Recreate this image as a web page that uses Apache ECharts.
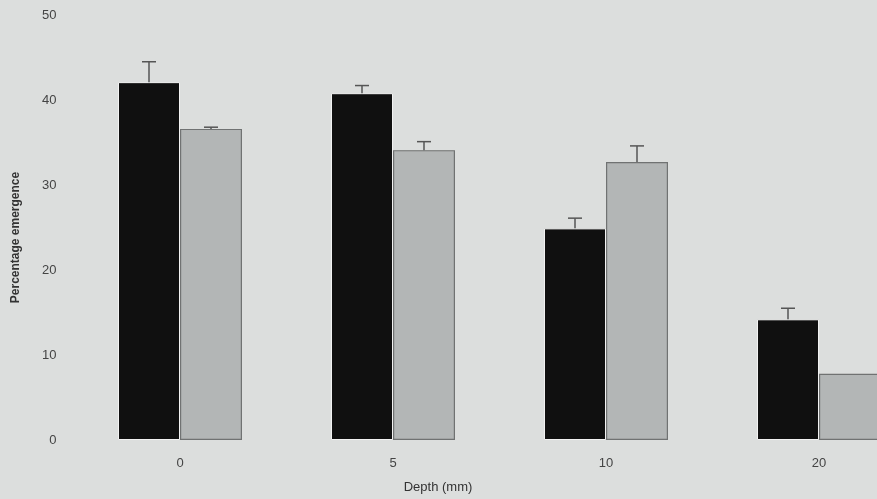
<!DOCTYPE html>
<html>
<head>
<meta charset="utf-8">
<script src="https://cdn.jsdelivr.net/npm/echarts@6/dist/echarts.min.js"></script>
<style>
html,body{margin:0;padding:0;background:#dcdedd;overflow:hidden;}
#c{width:877px;height:499px;}
</style>
</head>
<body>
<div id="c"></div>
<script>
var categories = ['0', '5', '10', '20'];
var seriesA = [42.1, 40.8, 24.9, 14.2];
var errA = [44.5, 41.7, 26.1, 15.5];
var seriesB = [36.6, 34.1, 32.7, 7.8];
var errB = [36.8, 35.1, 34.6, 7.8];
var yTicks = [0, 10, 20, 30, 40, 50];

var chart = echarts.init(document.getElementById('c'));
var FONT = 'Liberation Sans, Arial, sans-serif';

function errSeries(vals, tops, offset, color) {
  var data = categories.map(function (c, i) { return [i, vals[i], tops[i]]; });
  return {
    type: 'custom',
    z: 5,
    clip: false,
    data: data,
    renderItem: function (params, api) {
      var b = api.coord([api.value(0), api.value(1)]);
      var t = api.coord([api.value(0), api.value(2)]);
      var x = b[0] + offset;
      if (Math.abs(b[1] - t[1]) < 1) return null;
      return {
        type: 'group',
        children: [
          { type: 'line', shape: { x1: x, y1: b[1], x2: x, y2: t[1] }, style: { stroke: color, lineWidth: 1.5 } },
          { type: 'line', shape: { x1: x - 7, y1: t[1], x2: x + 7, y2: t[1] }, style: { stroke: color, lineWidth: 1.5 } }
        ]
      };
    }
  };
}

chart.setOption({
  backgroundColor: '#dcdedd',
  animation: false,
  title: {
    text: 'Depth (mm)',
    left: 433, top: 476, textAlign: 'center',
    textStyle: { color: '#333', fontFamily: FONT, fontSize: 13, fontWeight: 'normal' }
  },
  grid: { left: 73.5, width: 852, top: 15, height: 425, outerBoundsMode: 'none', containLabel: false },
  xAxis: {
    type: 'category',
    data: categories,
    axisLine: { show: false },
    axisTick: { show: false },
    axisLabel: { color: '#444', fontFamily: FONT, fontSize: 13, margin: 17 }
  },
  yAxis: {
    type: 'value',
    min: 0, max: 50, interval: 10,
    axisLine: { show: false },
    axisTick: { show: false },
    splitLine: { show: false },
    axisLabel: { color: '#444', fontFamily: FONT, fontSize: 13, margin: 17,
      formatter: function (v) { return yTicks.indexOf(v) >= 0 ? String(v) : ''; } },
    name: 'Percentage emergence',
    nameLocation: 'middle',
    nameGap: 52,
    nameRotate: 90,
    nameTextStyle: { color: '#333', fontFamily: FONT, fontSize: 12, fontWeight: 'bold', padding: [0, 20, 0, 0] }
  },
  series: [
    {
      type: 'bar', data: seriesA, barWidth: 62, barGap: '0%',
      itemStyle: { color: '#101010', borderColor: '#f2f2f2', borderWidth: 1 }
    },
    {
      type: 'bar', data: seriesB, barWidth: 62, barGap: '0%',
      itemStyle: { color: '#b3b6b6', borderColor: '#707272', borderWidth: 1.2 }
    },
    errSeries(seriesA, errA, -31, '#555'),
    errSeries(seriesB, errB, 31, '#555')
  ]
});
</script>
</body>
</html>
